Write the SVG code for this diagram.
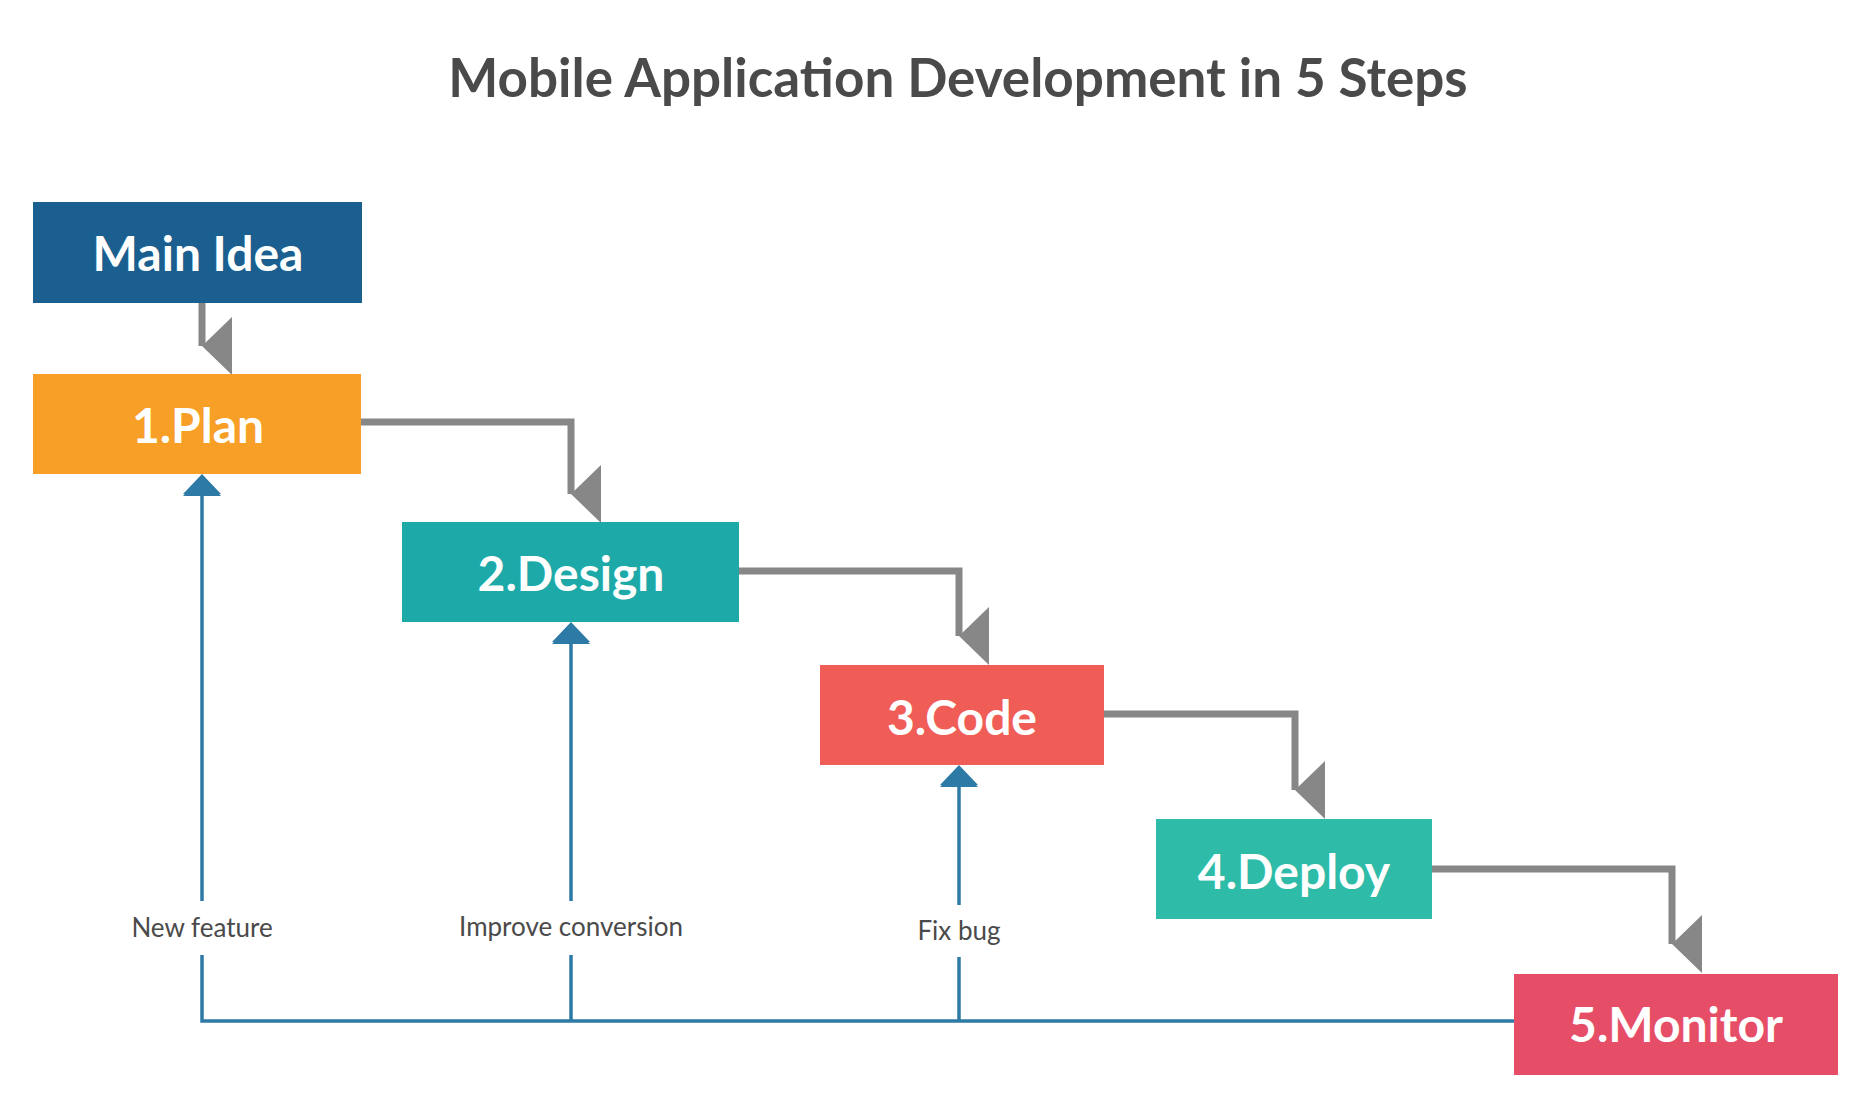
<svg xmlns="http://www.w3.org/2000/svg" width="1867" height="1098" viewBox="0 0 1867 1098">
<style>
.t{font-family:Lato,"Liberation Sans",sans-serif;font-weight:bold;fill:#fff;font-size:48px;text-anchor:middle}
.l{font-family:Lato,"Liberation Sans",sans-serif;fill:#4a4a4a;font-size:26px;text-anchor:middle}
.g{fill:none;stroke:#878787;stroke-width:7}
.b{fill:none;stroke:#2e7aa6;stroke-width:3.5}
</style>
<defs>
<marker id="ga" markerUnits="userSpaceOnUse" viewBox="0 0 58 30" refX="29" refY="30" markerWidth="58" markerHeight="30" orient="auto-start-reverse"><path d="M0,0H58L29,30Z" fill="#878787"/></marker>
<marker id="ba" markerUnits="userSpaceOnUse" viewBox="0 0 38 20" refX="19" refY="0" markerWidth="38" markerHeight="20" orient="0"><path d="M0,20H38L19,0Z" fill="#2e7aa6"/></marker>
</defs>
<rect width="1867" height="1098" fill="#fff"/>
<text x="958" y="97" font-family="Lato,'Liberation Sans',sans-serif" font-weight="bold" font-size="53" fill="#4a4a4a" text-anchor="middle">Mobile Application Development in 5 Steps</text>
<g id="connectors">
<path class="g" d="M202,300V346" marker-end="url(#ga)"/>
<path class="g" d="M361,422H571V494" marker-end="url(#ga)"/>
<path class="g" d="M739,571H959V636" marker-end="url(#ga)"/>
<path class="g" d="M1104,714H1295V790" marker-end="url(#ga)"/>
<path class="g" d="M1432,869H1672V944" marker-end="url(#ga)"/>
<path class="b" d="M1514,1021H202V955"/>
<path class="b" d="M571,1021V955"/>
<path class="b" d="M959,1021V957"/>
<path class="b" d="M202,901V476" marker-end="url(#ba)"/>
<path class="b" d="M571,901V624" marker-end="url(#ba)"/>
<path class="b" d="M959,905V767" marker-end="url(#ba)"/>
<path d="M183,494H221L202,474Z M552,642H590L571,622Z M940,785H978L959,765Z" fill="#2e7aa6"/>
</g>
<g id="main"><rect x="33" y="202" width="329" height="101" fill="#1a5f8f"/><text class="t" x="198" y="271">Main Idea</text></g>
<g id="plan"><rect x="33" y="374" width="328" height="100" fill="#f79f27"/><text class="t" x="198" y="443">1.Plan</text></g>
<g id="design"><rect x="402" y="522" width="337" height="100" fill="#1ea9a9"/><text class="t" x="571" y="591">2.Design</text></g>
<g id="code"><rect x="820" y="665" width="284" height="100" fill="#f05d56"/><text class="t" x="962" y="735">3.Code</text></g>
<g id="deploy"><rect x="1156" y="819" width="276" height="100" fill="#2ebba8"/><text class="t" x="1294" y="889">4.Deploy</text></g>
<g id="monitor"><rect x="1514" y="974" width="324" height="101" fill="#e64e68"/><text class="t" x="1676" y="1042">5.Monitor</text></g>
<g id="labels">
<text class="l" x="202" y="937">New feature</text>
<text class="l" x="571" y="936">Improve conversion</text>
<text class="l" x="959" y="940">Fix bug</text>
</g>
</svg>
